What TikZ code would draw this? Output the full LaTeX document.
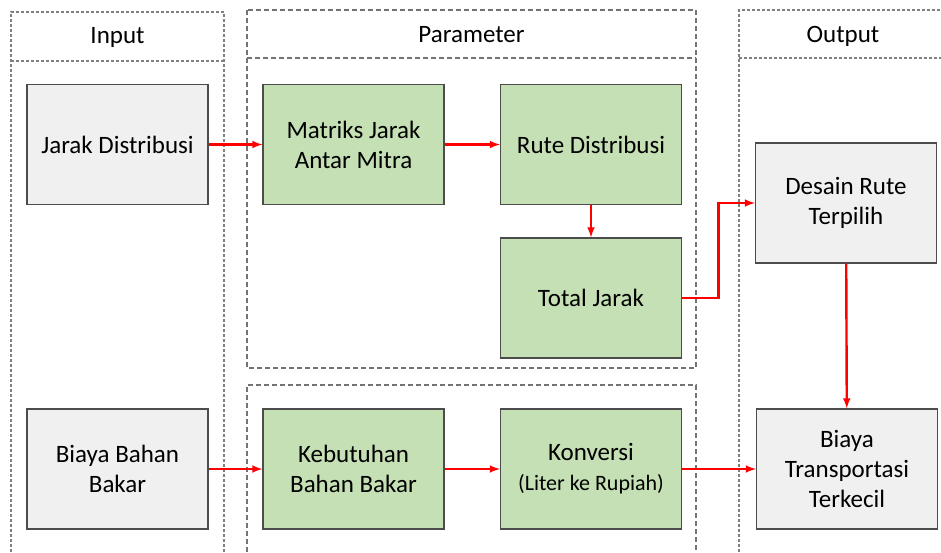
\documentclass[tikz,border=0pt]{standalone}
\usepackage{fontspec}
\setmainfont{Carlito}
\usepackage{tikz}
\usetikzlibrary{calc}

\begin{document}
\begin{tikzpicture}[x=1pt, y=-1pt,
  inbox/.style={draw=black!70, fill=black!6, line width=1.2pt, minimum width=181pt, minimum height=120pt, align=center, font=\fontsize{25}{30}\selectfont},
  parbox/.style={inbox, fill=green!45!olive!30!white},
  grup/.style={gray, line width=1.2pt, dash pattern=on 3pt off 2pt},
  grupb/.style={gray!90!black, line width=1.2pt, dash pattern=on 5pt off 3pt},
  alur/.style={-latex, red, line width=2.4pt}]
\useasboundingbox (0,0) rectangle (941,552);
\definecolor{hijau}{HTML}{C5E0B4}
\tikzset{parbox/.append style={fill=hijau}}

\draw[grup] (11,552) -- (11,12) -- (224,12) -- (224,552);
\draw[grup] (11,61) -- (224,61);
\draw[grupb] (247,10) rectangle (696,368);
\draw[grupb] (247,58) -- (696,58);
\draw[grupb] (247,552) -- (247,385) -- (696,385) -- (696,552);
\draw[grup] (739,552) -- (739,10) -- (945,10);
\draw[grup] (739,58) -- (945,58);

\node[font=\fontsize{25}{30}\selectfont] (input) at (117.5,37) {Input};
\node[font=\fontsize{25}{30}\selectfont] (param) at (471.5,35) {Parameter};
\node[font=\fontsize{25}{30}\selectfont] (output) at (843,36) {Output};

\node[inbox] (jarak) at (117.5,144.5) {Jarak Distribusi};
\node[parbox] (matriks) at (353.5,144.5) {Matriks Jarak\\Antar Mitra};
\node[parbox] (rute) at (591,144.5) {Rute Distribusi};
\node[parbox] (total) at (591,298) {Total Jarak};
\node[inbox] (desain) at (846,203) {Desain Rute\\Terpilih};
\node[inbox] (bbm) at (117.5,469) {Biaya Bahan\\Bakar};
\node[parbox] (kebutuhan) at (353.5,469) {Kebutuhan\\Bahan Bakar};
\node[parbox] (konversi) at (591,469) {Konversi\\{\fontsize{22}{30}\selectfont (Liter ke Rupiah)}};
\node[inbox] (biaya) at (847,469) {Biaya\\Transportasi\\Terkecil};

\draw[alur] (jarak) -- (matriks);
\draw[alur] (matriks) -- (rute);
\draw[alur] (rute) -- (total);
\draw[alur] (total.east) -| ($(total.east)!0.5!(desain.west)$) |- (desain.west);
\draw[alur] (desain) -- (biaya);
\draw[alur] (bbm) -- (kebutuhan);
\draw[alur] (kebutuhan) -- (konversi);
\draw[alur] (konversi) -- (biaya);
\end{tikzpicture}
\end{document}
